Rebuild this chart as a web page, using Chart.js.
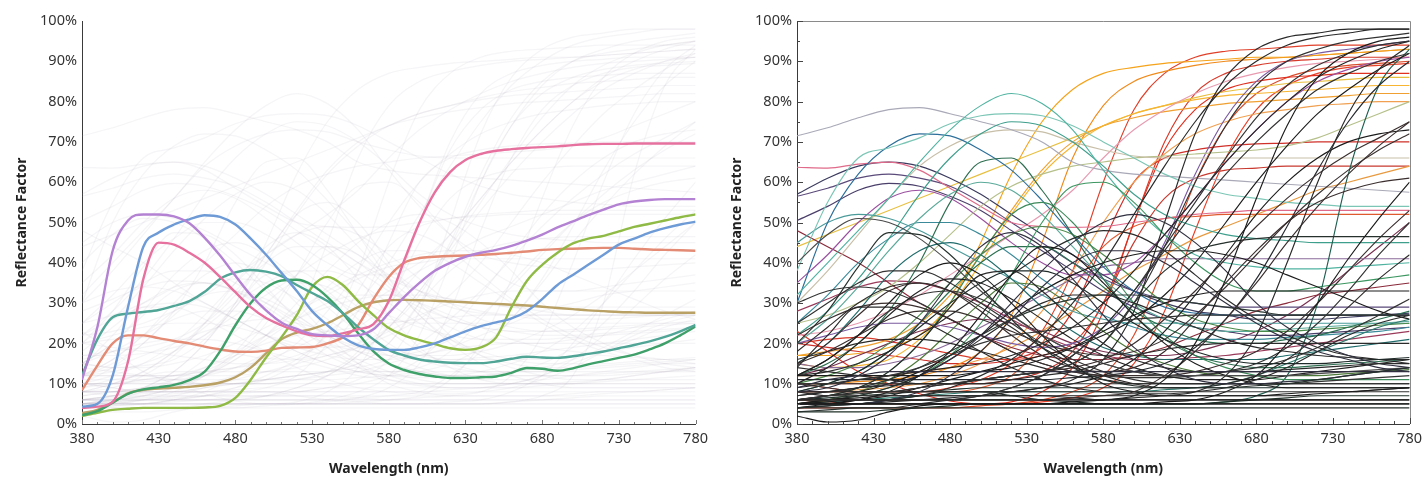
<!DOCTYPE html>
<html>
<head>
<meta charset="utf-8">
<script src="https://cdn.jsdelivr.net/npm/chart.js@4.4.1/dist/chart.umd.min.js"></script>
<style>
  html, body { margin: 0; padding: 0; background: #fff; }
  #wrap { position: relative; width: 1428px; height: 479px; overflow: hidden; }
  #leftBox { position: absolute; left: 0; top: 0; width: 714px; height: 479px; }
  #rightBox { position: absolute; left: 712px; top: 0; width: 716px; height: 479px; }
</style>
</head>
<body>
<div id="wrap">
  <div id="leftBox"><canvas id="leftChart" width="714" height="479"></canvas></div>
  <div id="rightBox"><canvas id="rightChart" width="716" height="479"></canvas></div>
</div>
<script>
// wavelength grids (nm) and axis ticks
var wl10 = [380,390,400,410,420,430,440,450,460,470,480,490,500,510,520,530,540,550,560,570,580,
            590,600,610,620,630,640,650,660,670,680,690,700,710,720,730,740,750,760,770,780];
var wl20 = [380,400,420,440,460,480,500,520,540,560,580,600,620,640,660,680,700,720,740,760,780];
var xTickValues = [380,430,480,530,580,630,680,730,780];
var yTickValues = [0,10,20,30,40,50,60,70,80,90,100];

// left panel: highlighted samples (10 nm steps, % reflectance)
var purple = [11,24,43,50.5,52,52,51.5,49.8,46.2,41.8,36.8,32,28.2,25.2,23.6,22.3,22,21.8,22,23.5,27.5,
              31.5,35,38,40,41.5,42.5,43.2,44.2,45.5,47,48.8,50.3,51.8,53.2,54.5,55.2,55.6,55.8,55.8,55.8];
var blue = [4.3,5,12,29,44,47.5,49.5,50.8,51.8,51.4,49.5,46,42,37.5,33,28,24.5,21.5,19.5,18.6,18.4,
            18.4,19,20,21.5,23,24.3,25.2,26.2,28,31,34.5,37,39.5,42,44.5,46,47.5,48.6,49.5,50.2];
var pink = [4,4.3,5.5,15.5,36,45,44.5,42.5,40,36.5,32.7,29,26.3,24.5,23,22,21.8,22.5,23.5,24.8,30.5,
            40.5,50,57.5,62.5,65.5,67,67.8,68.2,68.5,68.7,68.9,69.2,69.4,69.5,69.5,69.6,69.6,69.6,69.6,69.6];
var teal = [12,21,26.5,27.4,27.8,28.3,29.3,30.5,32.8,36,37.6,38.2,37.8,36.7,34.5,32.5,30.5,27.5,24,21,18.4,
            17,16,15.5,15.2,15.1,15.1,15.5,16.2,16.7,16.5,16.4,16.8,17.4,18,18.8,19.6,20.5,21.6,23,24.6];
var green = [2.2,3.2,5.3,7.5,8.6,9.1,9.7,10.9,13,18,24.5,30,33.8,35.6,35.8,34.5,31.5,27.5,22.5,18,15,
             13.4,12.4,11.8,11.4,11.4,11.6,11.8,12.7,13.9,13.7,13.2,13.8,14.8,15.6,16.4,17.2,18.5,20,22,24.2];
var olive = [2,2.8,3.5,3.8,4,4,4,4,4.1,4.5,6.5,11,16.5,21.5,27,34,36.5,34.5,30.5,27,23.8,
             22,20.8,19.8,18.8,18.4,19,21.5,29,35.5,39.5,42.5,44.8,46,46.7,47.8,48.9,49.7,50.5,51.3,52];
var salmon = [8.4,14.5,20,22,22,21.3,20.6,20,19.2,18.5,18,17.9,18.2,18.9,19,19.1,20,21.5,24.5,31,36.5,
              40,41.2,41.5,41.7,41.8,42,42.2,42.5,42.8,43.2,43.4,43.5,43.6,43.7,43.7,43.5,43.3,43.2,43.1,43];
var tan = [2.7,3.5,5.3,7.6,8.5,8.8,9,9.2,9.6,10.3,11.6,14,17.5,21,22.7,23.6,25,27,29,30.2,30.7,
           30.8,30.7,30.6,30.4,30.2,30,29.8,29.6,29.4,29.1,28.8,28.5,28.2,28,27.8,27.7,27.6,27.6,27.6,27.6];
var leftSeries = [purple, blue, pink, teal, green, olive, salmon, tan];
var leftColors = ['#b482d2', '#6e9bd6', '#e6719f', '#50a596', '#3fa06a', '#8fba45', '#e38b74', '#b9a065'];

// right panel: all samples (20 nm steps, % reflectance)
var k01 = [5,5,5,5,5,5,5,5,5,5.5,6,7,11,20,36,56,74,86,92,95,96];
var k02 = [6,6,6,6,6,6,6,6,6,6,6,6.5,7,8,12,22,40,60,77,88,94];
var k03 = [10,9,8,8,9,10,11,12,13,15,20,30,44,60,74,84,90,93,95,96,97];
var k04 = [6,6,6,6,6,6,6,6,6,6.5,7,8,12,18,26,35,45,54,62,69,75];
var k05 = [20,28,39,47.5,47,42,34,26,19,14,11,9.5,9,9,9,9.5,10,11,12,13,14];
var k06 = [8,9,12,17,25,35,44,47.5,44,36,27,19,14,11,10,10,10.5,11,12,13,14];
var k07 = [12,16,22,30,37,40,37,30,22,15,10,8,7,7,7,7,7,7.5,8,8.5,9];
var k08 = [14,22,29,29,26,22,18,14,11,9,8,7.5,7.5,8,9,11,14,18,22,25,27];
var k09 = [3,3.5,4,4,4,4,4,4,4,4,4,4,4,4,4,4,4,4,4,4,4];
var k10 = [5,5.5,6,6,6,6,6,6,6,6,6,6,6,6,6,6,6,6,6,6,6];
var k11 = [6,7,7.5,8,8,8,8,8,8,8,8,8,8,8,8,8,8,8,8,8,8];
var k12 = [7,8,9,9.5,10,10,10,10,10,10,10,10,10,10,10,10,10,10,10,10,10];
var k13 = [9,11,12,13,13,13,13,13,13,13,13,13,13,13,13,13,13,13,13,13,13];
var k14 = [2,0.5,1,3,4.5,5,5,5,5,5,5,5,5,5,5,5,5,5,5,5,5];
var k15 = [6,7,9,13,20,29,37,38,33,26,20,16,14,13,13,13,13.5,14,14.5,15,15];
var k16 = [8,8,8,8,9,10,11,12,13,14,16,20,26,33,41,49,56,62,67,71,75];
var k17 = [5,5,5,5,5,5,5,5,5,5,5,5,5.5,6,8,12,20,30,41,51,60];
var k18 = [10,10,11,12,14,17,20,22,23,24,25,26,26.5,27,27,27,27,27,27,27,27];
var k19 = [10,10,10,10,10,10,11,12,13,15,20,30,38,43,45,46,46.5,46.5,46.5,46.5,46.5];
var k20 = [14,13,12,11,10,10,10,11,12,13,15,17,18.5,19.5,20,20,20,20,20,20,20];
var k21 = [5,5,5,6,8,12,18,26,34,40,43,43,40,35,30,25,21,18,16,14,13];
var k22 = [40,47,51,50,46,40,33,27,22,18,15,13,12,12,12,12,12,12.5,13,13.5,14];
var k23 = [5,5,6,8,12,18,27,37,44,42,35,27,20,15,12,10,9,9,9,9,9];
var k24 = [8,7,7,7,7,7,7,8,9,11,16,28,50,72,86,93,96,97,98,98,98];
var k25 = [6,6,6,6,6,6,7,9,12,17,24,33,43,53,62,70,77,83,87,90,92];
var k26 = [4,4.5,5,6,7,8,8,7,6,5.5,5,5,5,5,5,5,5,5,5,5,5];
var k27 = [5,6,6.5,7,7,7,7,7,7,7,7,7,7,7,7,7,7.5,8,8,8.5,9];
var k28 = [15,20,27,33,35,33,28,22,17,14,13,14,18,26,35,43,50,55,58,60,61];
var k29 = [5,5,5,6,7,9,12,16,22,30,40,52,64,75,84,90,94,96,97,98,98];
var k30 = [12,12,12,12,12,12,13,14,16,19,23,27,30,32,33,33,33,33,33,33,33];
var k31 = [8,8,9,10,12,16,22,30,38,45,50,52,50,45,38,30,24,20,17,15,14];
var k32 = [4,4,4,4,5,6,7,9,12,17,24,33,44,55,66,76,84,89,92,94,95];
var k33 = [10,14,20,27,33,36,35,31,26,21,17,14,12,11,11,11,12,13,14,15,16];
var k34 = [18,24,30,34,35,33,29,24,19,15,12,10,9,9,10,12,16,22,29,36,42];
var k35 = [8,10,13,18,24,30,35,38,38,35,30,25,21,18,16,15,15,15,15.5,16,16.5];
var k36 = [25,30,35,38,38,35,30,25,20,16,13,11,10,10,10,10,10,10.5,11,11.5,12];
var k37 = [12,13,15,18,22,27,32,37,42,46,48,47,43,37,31,26,22,19,17,16,15];
var k38 = [6,7,8,10,13,17,22,28,33,37,40,42,43,43,42,40,37,34,31,28,26];
var k39 = [15,18,22,26,28,28,26,23,20,18,17,18,21,27,34,42,50,57,63,68,72];
var k40 = [9,10,11,12,13,14,15,17,20,24,30,38,47,56,65,73,80,86,90,93,95];
var k41 = [7,8,9,11,14,18,22,26,29,31,32,32,31,30,29,28,27,27,27,27,27];
var k42 = [4,5,6,7,9,11,13,15,17,19,22,26,32,40,50,60,69,77,83,88,92];
var k43 = [12,16,22,28,32,33,31,27,22,18,15,13,12,12,13,15,19,25,33,42,50];
var k44 = [16,18,20,21,21,20,18,16,14,12,11,10,10,10,10,10,10,10,10,10,10];
var k45 = [3,3,3,3.5,4,4.5,5,5,5,5,5,5,5,5,5.5,6,6.5,7,7,7,7];
var k46 = [8,8,8,8,8,8,8,8,9,10,12,16,23,32,42,52,60,66,70,72,73];
var k47 = [22,26,29,30,29,26,22,18,15,13,12,12,12,13,15,18,23,30,38,46,53];
var k48 = [5,6,7,9,12,16,21,26,30,32,32,30,27,24,21,19,18,17,16.5,16,16];
var k49 = [11,11,11,11,11,11,11,11,11,11.5,12,13,15,19,26,36,49,63,75,84,90];
var k50 = [6,6.5,7,7.5,8,8.5,9,9,9,9,9,9,9,9,9,9,9,9,9,9,9];
var k51 = [4,4.5,5,5.5,6,6.5,7,7,7,6.5,6,6,6,6,6,6,6,6,6,6,6];
var k52 = [30,33,34,33,30,26,22,18,15,13,12,11.5,11.5,12,13,14,16,19,23,27,31];
var g01 = [12,15,20,28,40,55,65,66,58,47,36,27,21,17,15,14,14,14.5,15,15.5,16];
var g02 = [6,7,9,13,20,30,42,52,55,50,40,30,22,17,14,12,11,11,11,11,11];
var g03 = [5,5,5,5,5,5,5,5,5,5,5,5,5,5,5.5,7,12,30,62,84,93];
var g04 = [5,6,8,11,16,23,30,35,34,29,23,18,15,13,12,12,12,12,12.5,13,13.5];
var g05 = [5,5.5,6,6.5,7,7.5,8,8,8,8,8,8,8.5,9,10,12,15,18,21,24,26];
var g06 = [15,20,28,37,43,45,42,36,29,23,19,17,16,16,16,16,17,18,19,20,21];
var g07 = [6,6,7,9,12,17,25,37,50,59,60,55,47,40,35,33,33,34,35,36,37];
var g08 = [8,10,13,18,25,33,40,44,44,40,34,28,24,21,20,20,21,22,24,26,28];
var g09 = [10,12,15,20,27,35,42,47,49,47,42,36,30,26,24,23,23,23.5,24,24.5,25];
var t01 = [32,40,48,56,65,73,79,82,79.5,73,63,54,47,42,40,39,38.5,38.5,39,39.5,40];
var t02 = [22,28,36,46,57,66,72,75,74,70,64,57,52,49,47,46,45.5,45,45,45,45];
var t03 = [38,55,66,68.5,71,74.5,76.5,77,76.5,74,70,66,62,59,57,56,55,54.5,54,54,54];
var t04 = [30,50,62,69,72,71.5,68,63,55.5,47,39,33,29,27.5,27,27,27,27,27,27,27];
var t05 = [20,26,34,43,51,57,60,58,52,44,36,30,26,24,23,23,23.5,24,24.5,25,25.5];
var t06 = [45,50,52,51,48,44,40,36,32,28,26,25,25,25,25,25,25,25,25,25,25];
var t07 = [25,32,40,46,50,50,47,42,36,31,27,24,22,21,21,21,21.5,22,22.5,23,24];
var n01 = [71.5,73.5,76,78,78.5,77,75,73,70,65,63,62,61.5,61,60.5,60,59.5,59,58.5,58,57.5];
var n02 = [30,38,47,56,64,69,72,73,72.5,70,68,66.5,66,66,66,66,66,66,66,66,66];
var n03 = [25,27,30,34,40,47,54,59,62,64,65,66,66.5,67,67.5,68,69,71,74,77,80];
var p01 = [63.7,63.5,64.5,65,63,58.5,54,50,49,48.8,49,50,51,52,52.5,53,53,53,53,53,53];
var p02 = [57,61,64,65,64,61,57,52,47,42,37,33,30,28,27,26,26,26,26.5,27,27.5];
var p03 = [50.5,54,58,59.7,59,56.5,53,48,43,38,33,29,26,24,23,22,22,22.5,23,23.5,24];
var p04 = [56.5,58.5,61,62,61,59,55,50,45,40,36,33,31,30,29,29,29,29,29,29,29];
var p05 = [20,22,24,25,25,24,22,20,19,20,24,32,45,62,76,85,90,92,93,94,95];
var p06 = [35,42,50,56,58,56,51,45,40,37,37,40,47,56,65,73,80,85,88,90,91];
var p07 = [48,44,40,35,30,26,22,19,17,16,16,17,19,22,25,28,30,32,33,34,35];
var p08 = [28,31,34,35.5,35,33,30,26,22,19,17,16,16,16.5,17,18,19,20,21,22,23];
var p09 = [22,23,25,28,32,37,42,47,52,58,66,73,78,82,85,87,88.5,89.5,90,90.5,91];
var p10 = [15,14,14,15,17,20,24,28,32,36,39,40,41,41,41,41,41,41,41,41,41];
var p11 = [12,14,17,20,23,25,26,25,23,20,18,17,17,18,20,23,27,32,38,44,50];
var y01 = [17,17,17.5,19,22,30,45,62,75,83,87,88.5,89.5,90,90.5,91,91,91.5,92,92.5,93];
var y02 = [15,14,14.5,16,21,29,40,52,62,69,74,77,79,80.5,81.5,82,82.5,83,83.5,84,84];
var y03 = [17,18,19,21,25,32,42,53,63,70,74,76,77.5,78.5,79.5,80,80.5,81,81.5,82,82];
var y04 = [44,47,50,53,56,59,62,65,68,71,74,77,79,81,82.5,83.5,84.5,85,85.5,86,86];
var y05 = [10,10,10.5,11,12,14,18,27,45,66,79,85,87.5,89,90,90.5,91,91.5,92,92.5,93];
var y06 = [12,12,12,12,13,14,16,19,23,28,33,38,42,46,49,52,55,58,60,62,64];
var y07 = [8,8,8.5,9,10,12,15,20,28,38,50,60,67,72,75,77,78,79,79.5,80,80];
var r01 = [23,18,13,10,7.5,5.7,5,5.5,8,14,28,50,68,78,83,85,86,86.5,87,87,87];
var r02 = [20,21,21.5,20.5,19,17.5,16.2,16,17,20,30,50,70,82,87,89,90,90.5,91,91,91];
var r03 = [6,5.5,5,5,5,5,5,5,5.5,6.5,9,15,28,48,66,78,84,87,88.5,89,89.5];
var r04 = [20,19,18,17,16,15,15,16,19,28,45,60,66,68,69,69.5,69.7,70,70,70,70];
var r05 = [8,8,8,8,8,8,9,12,20,33,44,49,51,51.5,52,52,52,52,52,52,52];
var r06 = [10,9,8,8,8,9,11,15,23,38,60,78,87,91,92.5,93,93.5,94,94,94,94];
var r07 = [10,10,10,10,10,10,10,11,13,18,30,45,56,61,63,63.5,64,64,64,64,64];
var r08 = [4,4,4,4,4,4,4.5,5,6,8,12,22,40,60,74,82,86,88,89,89.5,90];

var rightSeries = [k01,k02,k03,k04,k05,k06,k07,k08,k09,k10,k11,k12,k13,k14,k15,k16,k17,k18,k19,k20,
                   k21,k22,k23,k24,k25,k26,k27,k28,k29,k30,k31,k32,k33,k34,k35,k36,k37,k38,k39,k40,
                   k41,k42,k43,k44,k45,k46,k47,k48,k49,k50,k51,k52,
                   g01,g02,g03,g04,g05,g06,g07,g08,g09,
                   t01,t02,t03,t04,t05,t06,t07,n01,n02,n03,
                   p01,p02,p03,p04,p05,p06,p07,p08,p09,p10,p11,
                   y01,y02,y03,y04,y05,y06,y07,r01,r02,r03,r04,r05,r06,r07,r08];
var rightColors = ['#1c1c1c','#2a2a2a','#333333','#3a2e2e','#26302c','#303040','#1c1c1c','#2a2a2a',
                   '#26302c','#1c1c1c','#333333','#2a2a2a','#303040','#1c1c1c','#2a2a2a','#3a2e2e',
                   '#1c1c1c','#333333','#26302c','#2a2a2a','#303040','#4a4a4a','#1c1c1c','#2a2a2a',
                   '#333333','#26302c','#1c1c1c','#3a2e2e','#2a2a2a','#1c1c1c','#303040','#333333',
                   '#222222','#2e2a2a','#1e2a28','#333333','#2a2a2a','#1c1c1c','#3a3030','#262626',
                   '#2c3a34','#1c1c1c','#333333','#2a2a2a','#203028','#1c1c1c','#3a2e2e','#2a2a2a',
                   '#262a30','#1e2e2a','#2a2a2a','#333333',
                   '#2d6e50','#3d8a5a','#1f5f50','#4d7a3a','#2f7a6e','#1f6b6b','#3c9660','#2a7050','#4a8a4a',
                   '#4fb3a0','#3e9f8c','#7cc6b6','#2c6f9b','#5aaa9a','#4a9a9a','#3a8a9a',
                   '#a9a9b8','#c8bfa8','#b5c08a',
                   '#e06a8a','#3a3a5e','#4a3f6a','#5a4a7a','#7a5aa0','#9a4fa0','#8a2a3a','#9a3a5a','#e89ab0','#8a6a9a','#7a3050',
                   '#f5a31a','#f7b531','#f0a030','#e8c040','#f08a1a','#e89a40','#f0a050',
                   '#e03020','#d83a2a','#e8412a','#d0302a','#e05a30','#e0402a','#c83a30','#d84a2a'];

function toPoints(xs, ys) {
  return ys.map(function (v, i) { return {x: xs[i], y: v}; });
}

// minor ticks on the axes and the grey frame of the right panel
var axisDecor = {
  id: 'axisDecor',
  afterDraw: function (chart, args, opts) {
    var ctx = chart.ctx, a = chart.chartArea;
    var xs = chart.scales.x, ys = chart.scales.y;
    ctx.save();
    if (opts.frame) {
      ctx.strokeStyle = opts.frame;
      ctx.lineWidth = 1;
      ctx.beginPath();
      ctx.moveTo(a.left, Math.round(a.top) + 0.5);
      ctx.lineTo(Math.round(a.right) + 0.5, Math.round(a.top) + 0.5);
      ctx.lineTo(Math.round(a.right) + 0.5, a.bottom);
      ctx.stroke();
    }
    ctx.strokeStyle = opts.tickColor;
    ctx.lineWidth = 1;
    ctx.beginPath();
    for (var v = 380; v <= 780; v += 10) {
      var px = Math.round(xs.getPixelForValue(v)) + 0.5;
      var len = (v - 380) % 50 === 0 ? opts.majorLen : opts.minorLen;
      ctx.moveTo(px, a.bottom);
      ctx.lineTo(px, a.bottom - len);
    }
    if (opts.yTicks) {
      for (var p = 0; p <= 100; p += 5) {
        var py = Math.round(ys.getPixelForValue(p)) + 0.5;
        var l2 = p % 10 === 0 ? opts.majorLen : opts.minorLen;
        ctx.moveTo(a.left, py);
        ctx.lineTo(a.left + l2, py);
      }
    }
    ctx.stroke();
    ctx.restore();
  }
};

function makeScales(yWidth, yTitlePad) {
  var tickFont = {family: "'Noto Sans', sans-serif", size: 14.5};
  var titleFont = {family: "'Noto Sans', sans-serif", size: 14, weight: 'bold'};
  return {
    x: {
      type: 'linear', min: 380, max: 780,
      afterBuildTicks: function (scale) {
        scale.ticks = xTickValues.map(function (v) { return {value: v}; });
      },
      afterFit: function (scale) { scale.height = 55; },
      grid: {display: false, drawTicks: false},
      border: {display: true, color: '#3a3a3a', width: 1},
      ticks: {font: tickFont, color: '#333', padding: 6, maxRotation: 0},
      title: {display: true, text: 'Wavelength (nm)', font: titleFont, color: '#222', padding: {top: 0, bottom: 2}}
    },
    y: {
      type: 'linear', min: 0, max: 100,
      afterBuildTicks: function (scale) {
        scale.ticks = yTickValues.map(function (v) { return {value: v}; });
      },
      afterFit: function (scale) { scale.width = yWidth; },
      grid: {display: false, drawTicks: false},
      border: {display: true, color: '#3a3a3a', width: 1},
      ticks: {font: tickFont, color: '#333', padding: 5, callback: function (v) { return v + '%'; }},
      title: {display: true, text: 'Reflectance Factor', font: titleFont, color: '#222', padding: {top: yTitlePad, bottom: 0}}
    }
  };
}

var leftData = [];
leftSeries.forEach(function (s, i) {
  leftData.push({data: toPoints(wl10, s), borderColor: leftColors[i], borderWidth: 2.4, order: 0});
});
rightSeries.forEach(function (s) {
  leftData.push({data: toPoints(wl20, s), borderColor: 'rgba(180,172,182,0.13)', borderWidth: 1.2, order: 1});
});

var rightData = rightSeries.map(function (s, i) {
  return {data: toPoints(wl20, s), borderColor: rightColors[i], borderWidth: 1.15};
});

var baseOptions = {
  responsive: false,
  animation: false,
  elements: {point: {radius: 0}, line: {cubicInterpolationMode: 'monotone', fill: false}}
};

new Chart(document.getElementById('leftChart'), {
  type: 'line',
  data: {datasets: leftData},
  plugins: [axisDecor],
  options: Object.assign({}, baseOptions, {
    layout: {padding: {left: 0, right: 14, top: 21, bottom: 0}},
    scales: makeScales(82, 14),
    plugins: {legend: {display: false}, tooltip: {enabled: false},
              axisDecor: {tickColor: '#777', majorLen: 4, minorLen: 2, yTicks: false, frame: null}}
  })
});

new Chart(document.getElementById('rightChart'), {
  type: 'line',
  data: {datasets: rightData},
  plugins: [axisDecor],
  options: Object.assign({}, baseOptions, {
    layout: {padding: {left: 0, right: 11, top: 21, bottom: 0}},
    scales: makeScales(85, 17),
    plugins: {legend: {display: false}, tooltip: {enabled: false},
              axisDecor: {tickColor: '#444', majorLen: 6, minorLen: 3, yTicks: true, frame: '#8a8a8a'}}
  })
});
</script>
</body>
</html>
